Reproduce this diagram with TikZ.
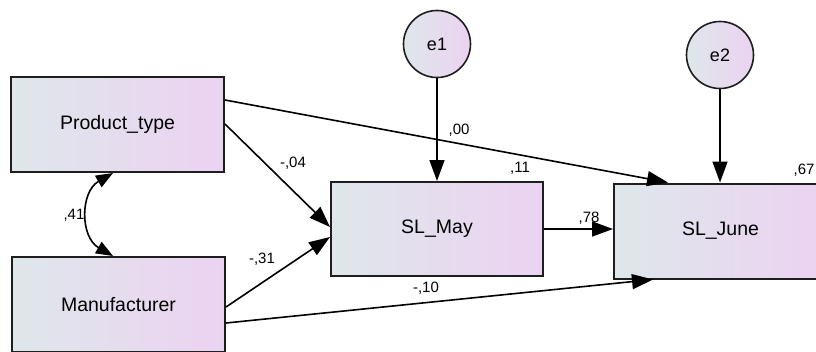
\documentclass[tikz,border=0pt]{standalone}
\usepackage{fontspec}
\setmainfont{Liberation Sans}
\usetikzlibrary{arrows.meta,calc}
\definecolor{fillL}{RGB}{222,231,234}
\definecolor{fillR}{RGB}{236,210,242}
\definecolor{edge}{RGB}{30,30,30}
\tikzset{
  var/.style={draw=edge, line width=2pt, left color=fillL, right color=fillR,
    minimum width=213pt, minimum height=95pt, inner sep=0pt,
    font=\fontsize{19.5}{22}\selectfont},
  err/.style={circle, draw=edge, line width=1.6pt, left color=fillL, right color=fillR,
    minimum size=67pt, inner sep=0pt, font=\fontsize{18}{20}\selectfont},
  path/.style={draw=black, line width=1.6pt, -{Triangle[length=21pt,width=15pt]}},
  cov/.style={draw=black, line width=1.6pt, {Triangle[length=17pt,width=13pt]}-{Triangle[length=17pt,width=13pt]}},
  coef/.style={font=\fontsize{15}{17}\selectfont, inner sep=0pt}
}
\begin{document}
\begin{tikzpicture}[x=1pt,y=-1pt]
\useasboundingbox (0,0) rectangle (816,351);
\fill[white] (0,0) rectangle (816,351);
\node[var] (pt) at (117.5,124.5) {Product\_type};
\node[var] (mf) at (118.5,304.5) {Manufacturer};
\node[var, minimum width=212pt, minimum height=94pt] (sm) at (437,229) {SL\_May};
\node[var] (sj) at (720.5,231) {SL\_June};
\node[err] (e1) at (437,44) {e1};
\node[err] (e2) at (720,55) {e2};
% paths
\draw[path] (e1) -- (sm.north);
\draw[path] (e2) -- ([xshift=-0.5]sj.north);
\draw[path] ([yshift=24.5]pt.east) -- ([xshift=-52.5]sj.north);
\draw[path] ([yshift=0.5]pt.east) -- ([yshift=2]sm.west);
\draw[path] ([yshift=-2.5]mf.east) -- ([yshift=-8]sm.west);
\draw[path] ([yshift=-18.5]mf.east) -- ([xshift=-67.5]sj.south);
\draw[path] (sm.east) -- (sm.east -| sj.west);
\draw[cov] ([xshift=-4.5]pt.south) .. controls (80,192) and (80,237) .. ([xshift=-5.5]mf.north);
% coefficients
\node[coef] (c00) at (459,130) {,00};
\node[coef] (c11) at (520,168) {,11};
\node[coef] (c78) at (589,218) {,78};
\node[coef] (c67) at (804,170) {,67};
\node[coef] (c04) at (293,163) {-,04};
\node[coef] (c41) at (74,215) {,41};
\node[coef] (c31) at (262,259) {-,31};
\node[coef] (c10) at (426,288) {-,10};
\end{tikzpicture}
\end{document}
